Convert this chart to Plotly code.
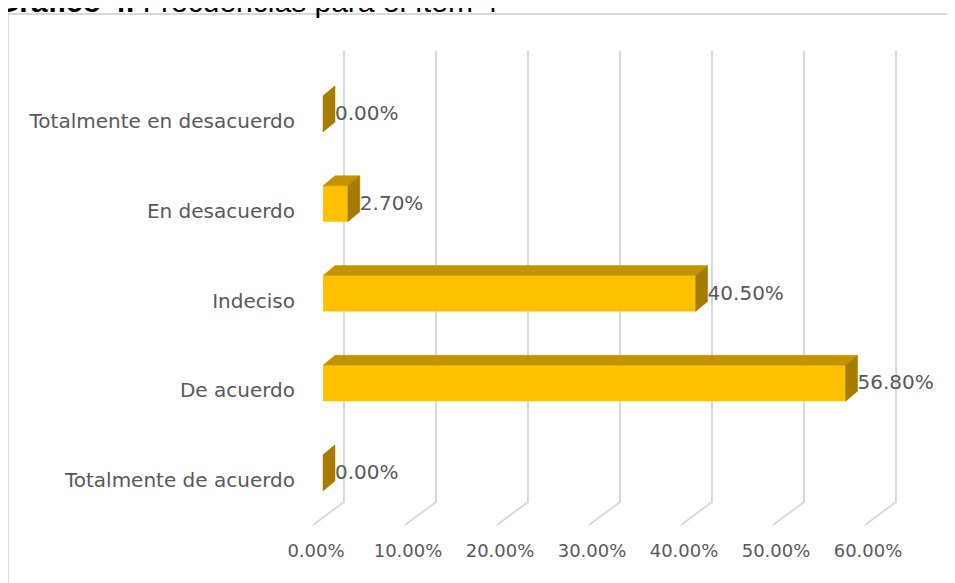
import plotly.graph_objects as go

# ---- data ----
categories = ["Totalmente de acuerdo", "De acuerdo", "Indeciso", "En desacuerdo", "Totalmente en desacuerdo"]
values = [0.0, 56.8, 40.5, 2.7, 0.0]
tick_values = [0, 10, 20, 30, 40, 50, 60]
title_bold = "Gráfico 4."
title_rest = "Frecuencias para el ítem 4"

# ---- geometry (screen pixels; page body has an 8px margin) ----
OFF = 8
W, H = 955 - OFF, 583 - OFF
SL, SR, ST, SB = 300, 955, 20, 538       # plot area in screen pixels
L, T = SL - OFF, ST - OFF
R = W - (SR - OFF)
B = H - (SB - OFF)
plot_w = W - L - R
plot_h = H - T - B
PX_PER_UNIT_X = 9.2          # pixels per percent
PX_PER_CAT = 89.75           # pixels per category
ZERO_X = 323                 # screen x of bar front at 0 %
CAT0_Y = 480                 # screen y of category 0 label
XMIN = -(ZERO_X - SL) / PX_PER_UNIT_X
XMAX = XMIN + plot_w / PX_PER_UNIT_X
y_lo = (CAT0_Y - SB) / PX_PER_CAT
y_hi = (CAT0_Y - ST) / PX_PER_CAT

# 3D depth offsets in data units
DX = 12 / PX_PER_UNIT_X
DY = 10 / PX_PER_CAT
BAR_W = 36 / PX_PER_CAT
CENTER_SHIFT = 7 / PX_PER_CAT

FRONT = "#FFC000"
TOP = "#C49400"
SIDE = "#A57C00"
GRID = "#D9D9D9"
TXT = "#595959"
FONT = "DejaVu Sans"

idx = list(range(len(categories)))

fig = go.Figure()

# front faces
fig.add_trace(go.Bar(orientation="h", x=values, y=idx, base=0,
                     width=BAR_W, offset=CENTER_SHIFT - BAR_W / 2,
                     marker=dict(color=FRONT, line=dict(width=0)),
                     showlegend=False, hoverinfo="skip"))

# top faces and side faces
tx, ty, sx, sy = [], [], [], []
for i, v in zip(idx, values):
    yt = i + CENTER_SHIFT + BAR_W / 2
    yb = i + CENTER_SHIFT - BAR_W / 2
    tx += [0, v, v + DX, DX, 0, None]
    ty += [yt, yt, yt + DY, yt + DY, yt, None]
    sx += [v, v, v + DX, v + DX, v, None]
    sy += [yb, yt, yt + DY, yb + DY, yb, None]
fig.add_trace(go.Scatter(x=tx, y=ty, mode="lines", fill="toself", fillcolor=TOP,
                         line=dict(width=0.5, color=TOP), hoverinfo="skip", showlegend=False))
fig.add_trace(go.Scatter(x=sx, y=sy, mode="lines", fill="toself", fillcolor=SIDE,
                         line=dict(width=0.5, color=SIDE), hoverinfo="skip", showlegend=False))

# data labels
fig.add_trace(go.Scatter(x=[v + DX for v in values],
                         y=[i + CENTER_SHIFT - 1 / PX_PER_CAT for i in idx],
                         mode="text", text=[f"{v:.2f}%" for v in values],
                         textposition="middle right",
                         textfont=dict(family=FONT, size=20, color=TXT),
                         hoverinfo="skip", showlegend=False))

# dummy trace for the label axis
fig.add_trace(go.Scatter(x=[None], y=[None], xaxis="x2", showlegend=False, hoverinfo="skip"))

# 3D gridlines as shapes below the traces (back wall vertical + floor diagonal)
back_off = (344 - ZERO_X) / PX_PER_UNIT_X
front_off = (313 - ZERO_X) / PX_PER_UNIT_X
y_top = (CAT0_Y - 51) / PX_PER_CAT
y_corner = (CAT0_Y - 502) / PX_PER_CAT
y_bot = (CAT0_Y - 525) / PX_PER_CAT
shapes = []
for v in tick_values:
    shapes.append(dict(type="path", xref="x", yref="y", layer="below",
                       path=f"M{v + back_off},{y_top} L{v + back_off},{y_corner} L{v + front_off},{y_bot}",
                       line=dict(color=GRID, width=2)))


def px_to_paper_x(sx_):
    return (sx_ - OFF - L) / plot_w


def px_to_paper_y(sy_):
    return ((H - B) - (sy_ - OFF)) / plot_h


# chart frame
shapes.append(dict(type="rect", xref="paper", yref="paper",
                   x0=px_to_paper_x(8), x1=px_to_paper_x(975),
                   y0=px_to_paper_y(600), y1=px_to_paper_y(14),
                   line=dict(color=GRID, width=2), fillcolor="rgba(0,0,0,0)", layer="below"))

lab_shift = (ZERO_X - 316) / PX_PER_UNIT_X

fig.update_layout(
    width=W, height=H,
    margin=dict(l=L, r=R, t=T, b=B, autoexpand=False),
    paper_bgcolor="white", plot_bgcolor="white",
    xaxis=dict(range=[XMIN, XMAX], showgrid=False, zeroline=False,
               showticklabels=False, showline=False, fixedrange=True),
    xaxis2=dict(range=[XMIN + lab_shift, XMAX + lab_shift], overlaying="x", side="bottom",
                anchor="y", tickvals=tick_values, ticktext=[f"{v:.2f}%" for v in tick_values],
                showgrid=False, zeroline=False, showline=False,
                tickfont=dict(family=FONT, size=18, color=TXT), ticks=""),
    yaxis=dict(range=[y_lo, y_hi], tickvals=idx, ticktext=categories,
               showgrid=False, zeroline=False, showline=False, ticks="",
               ticklabelstandoff=4,
               tickfont=dict(family=FONT, size=20, color=TXT)),
    shapes=shapes,
    annotations=[dict(text=f"<b>{title_bold}</b> {title_rest}", xref="paper", yref="paper",
                      x=px_to_paper_x(-6), y=px_to_paper_y(20), xanchor="left", yanchor="bottom",
                      showarrow=False, font=dict(family="Liberation Sans", size=30, color="black"))],
)

fig.write_html("out.html")
